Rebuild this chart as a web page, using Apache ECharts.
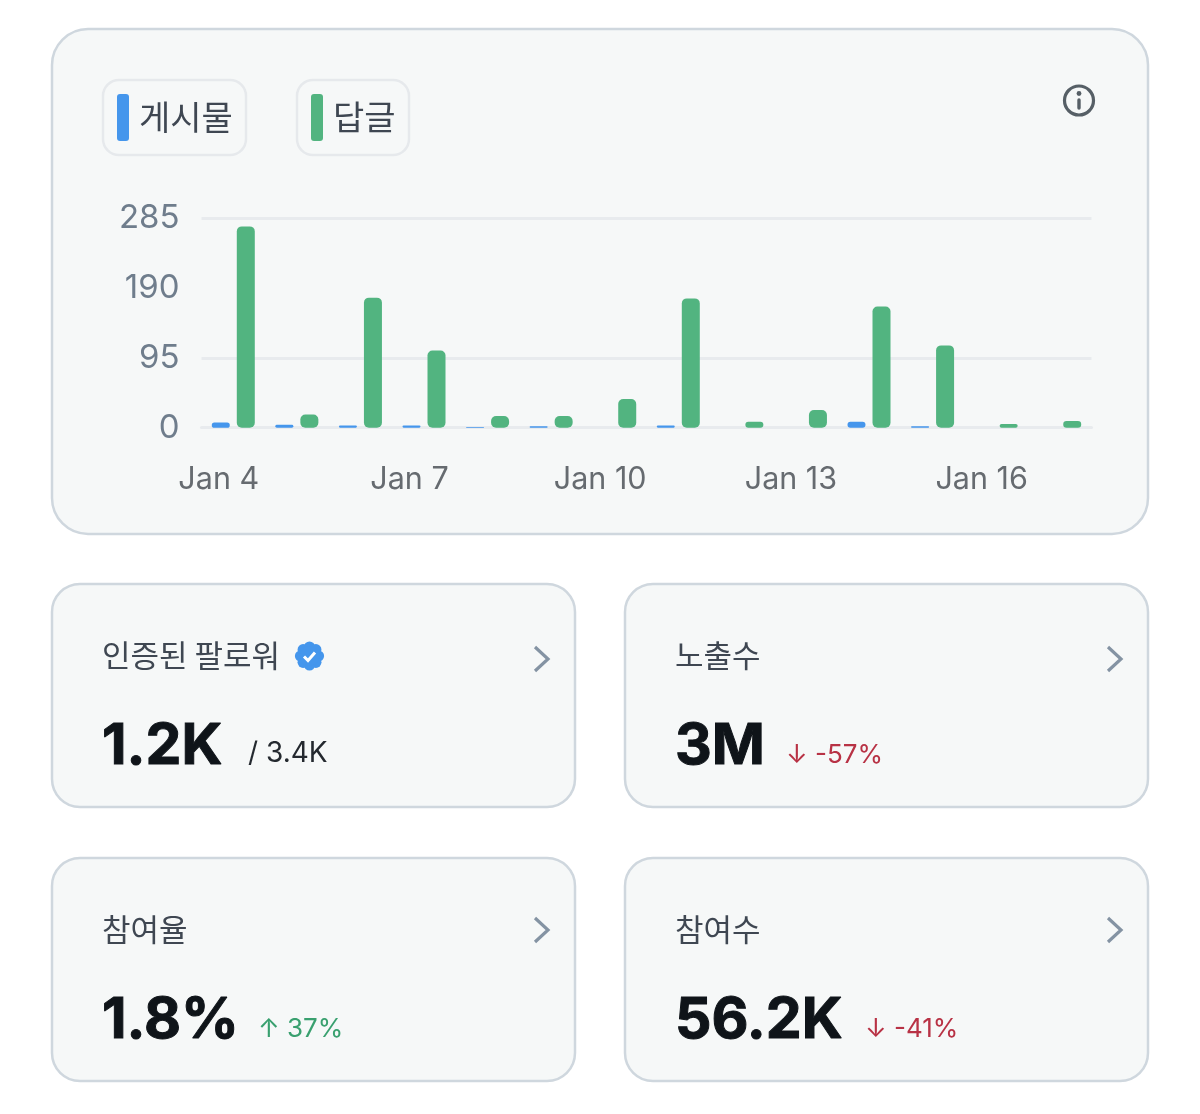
<!DOCTYPE html>
<html><head><meta charset="utf-8">
<style>html,body{margin:0;padding:0;background:#fff}#c{width:1200px;height:1114px}</style>
<script src="https://cdn.jsdelivr.net/npm/echarts@6/dist/echarts.min.js"></script>
</head><body><div id="c"></div>
<script>
const categories=['Jan 4','Jan 5','Jan 6','Jan 7','Jan 8','Jan 9','Jan 10','Jan 11','Jan 12','Jan 13','Jan 14','Jan 15','Jan 16','Jan 17'];
const posts=[7,4,3,3,1,2,0,3,0,0,8,2,0,0];
const replies=[274,18,177,105,16,16,39,176,8,24,165,112,5,9];
const seriesNames=['게시물','답글'];
const seriesColors=['#4596ec','#52b480'];
const FONT='Inter,"Noto Sans CJK KR",sans-serif';
const KFONT='"Noto Sans CJK KR",Inter,sans-serif';
const cards=[
 {x:52,y:584,chev:75,label:'인증된 팔로워',value:'1.2K',sub:'/ 3.4K',subX:248,subSize:28,subColor:'#24292f'},
 {x:625,y:584,chev:75,label:'노출수',value:'3M',sub:'↓ -57%',subX:786,subSize:26,subColor:'#b83245'},
 {x:52,y:858,chev:72,label:'참여율',value:'1.8%',sub:'↑ 37%',subX:258,subSize:26,subColor:'#39a06f'},
 {x:625,y:858,chev:72,label:'참여수',value:'56.2K',sub:'↓ -41%',subX:865,subSize:26,subColor:'#b83245'}
];
const g=[];
const cardStyle={fill:'#f6f8f8',stroke:'#cfd7de',lineWidth:2.5};
g.push({type:'rect',z:-10,shape:{x:52,y:29,width:1096,height:505,r:36},style:cardStyle});
g.push({type:'rect',z:-9,shape:{x:103,y:80,width:143,height:75,r:16},style:{fill:'#f6f8f8',stroke:'#e6e9ec',lineWidth:2.5}});
g.push({type:'rect',z:-9,shape:{x:297,y:80,width:112,height:75,r:16},style:{fill:'#f6f8f8',stroke:'#e6e9ec',lineWidth:2.5}});
// info icon
g.push({type:'circle',shape:{cx:1079,cy:100.5,r:14.5},style:{fill:'none',stroke:'#565f66',lineWidth:3.2}});
g.push({type:'line',shape:{x1:1079,y1:100,x2:1079,y2:108},style:{stroke:'#565f66',lineWidth:3.4,lineCap:'round'}});
g.push({type:'circle',shape:{cx:1079,cy:93.5,r:2.4},style:{fill:'#565f66'}});
cards.forEach(c=>{
 g.push({type:'rect',z:-10,shape:{x:c.x,y:c.y,width:523,height:223,r:28},style:cardStyle});
 g.push({type:'text',x:c.x+50,y:c.y+71,style:{text:c.label,font:'400 31px '+KFONT,fill:'#3f4752',textBaseline:'middle',textVerticalAlign:'middle'}});
 g.push({type:'text',x:c.x+50,y:c.y+191.5,style:{text:c.value,font:'700 57px '+FONT,fill:'#0f1419',stroke:'#0f1419',lineWidth:1,textBaseline:'alphabetic',textVerticalAlign:'bottom'}});
 g.push({type:'text',x:c.subX,y:c.y+184,style:{text:c.sub,font:'400 '+c.subSize+'px '+FONT,fill:c.subColor,textBaseline:'alphabetic',textVerticalAlign:'bottom'}});
 g.push({type:'polyline',shape:{points:[[c.x+483,c.y+c.chev-12],[c.x+496,c.y+c.chev],[c.x+483,c.y+c.chev+12]]},style:{fill:'none',stroke:'#8493a3',lineWidth:3.2}});
});
// verified badge
for(let i=0;i<8;i++){const a=i*Math.PI/4;g.push({type:'circle',shape:{cx:309.5+9*Math.cos(a),cy:656+9*Math.sin(a),r:5.6},style:{fill:'#4596ec'}});}
g.push({type:'circle',shape:{cx:309.5,cy:656,r:10},style:{fill:'#4596ec'}});
g.push({type:'polyline',shape:{points:[[304,656.5],[308,660.5],[315,652.5]]},style:{fill:'none',stroke:'#fff',lineWidth:3}});
const legendBase={itemWidth:12,itemHeight:47,icon:'roundRect',top:89,itemGap:0,selectedMode:false,
 textStyle:{fontFamily:KFONT,fontSize:34,color:'#3f4752',padding:[0,0,0,5]}};
const chart=echarts.init(document.getElementById('c'),null,{renderer:'canvas'});
chart.setOption({
 animation:false,backgroundColor:'#ffffff',
 graphic:g,
 legend:[
  Object.assign({},legendBase,{data:[seriesNames[0]],left:112}),
  Object.assign({},legendBase,{data:[seriesNames[1]],left:306})
 ],
 grid:{left:201.5,right:108.5,top:218.3,height:209.4},
 xAxis:{type:'category',data:categories,axisTick:{show:false},axisLine:{lineStyle:{color:'#e8ebee',width:3}},
  axisLabel:{interval:2,fontFamily:FONT,fontSize:30.5,color:'#666b70',margin:37,padding:[0,29,0,0]}},
 yAxis:{type:'value',min:0,max:285,interval:95,
  axisLabel:{fontFamily:FONT,fontSize:33,color:'#6f7d8c',margin:22,padding:[2,0,0,0],verticalAlignMaxLabel:'middle',verticalAlignMinLabel:'middle'},
  axisLine:{show:false},axisTick:{show:false},
  splitLine:{lineStyle:{color:['#e8ebee','#e8ebee','rgba(0,0,0,0)','#e8ebee'],width:3}}},
 series:[
  {name:seriesNames[0],type:'bar',data:posts,barWidth:18,barGap:'39%',itemStyle:{color:seriesColors[0],borderRadius:5}},
  {name:seriesNames[1],type:'bar',data:replies,barWidth:18,itemStyle:{color:seriesColors[1],borderRadius:5}}
 ]
});
</script></body></html>
